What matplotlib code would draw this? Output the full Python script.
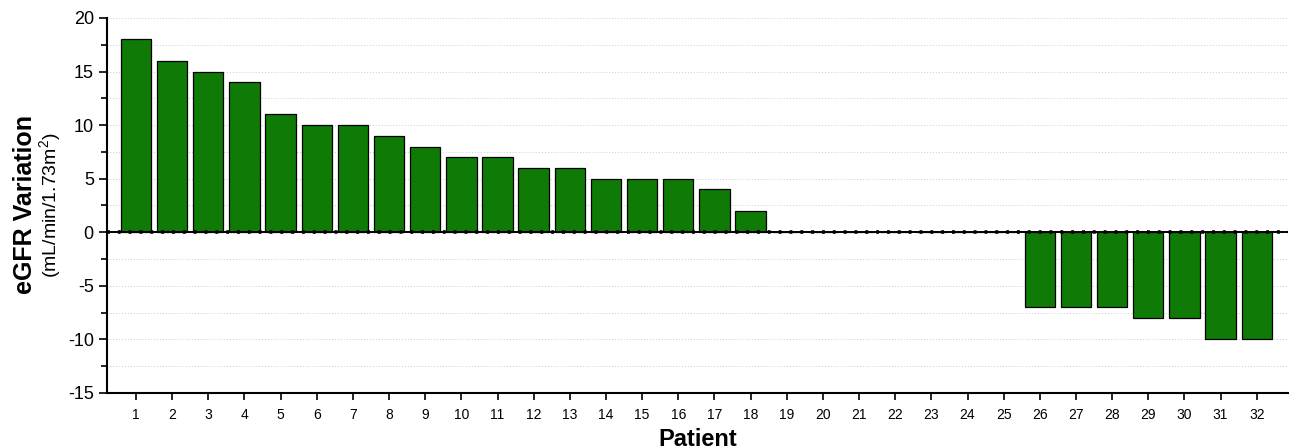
import numpy as np
import matplotlib.pyplot as plt
from matplotlib.ticker import MultipleLocator

plt.rcParams['font.family'] = ['Liberation Sans', 'DejaVu Sans']
plt.rcParams['axes.unicode_minus'] = False
plt.rcParams['mathtext.fontset'] = 'custom'
plt.rcParams['mathtext.rm'] = 'Liberation Sans'

patients = list(range(1, 33))
variation = [18, 16, 15, 14, 11, 10, 10, 9, 8, 7, 7, 6, 6, 5, 5, 5, 4, 2,
             0, 0, 0, 0, 0, 0, 0,
             -7, -7, -7, -8, -8, -10, -10]

fig = plt.figure(figsize=(12.93, 4.48), dpi=100)
ax = fig.add_axes([0.0828, 0.1228, 0.9132, 0.8372])

ax.bar(patients, variation, width=0.84, color='#107a07', edgecolor='black',
       linewidth=0.9, zorder=3)

# baseline: solid line with dotted overlay
ax.axhline(0, color='black', lw=1.4, zorder=4)
ax.axhline(0, color='black', lw=2.6, ls=(0, (0.8, 2.2)), zorder=4)

ax.set_xlim(0.2, 32.86)
ax.set_ylim(-15, 20)
ax.set_xticks(patients)
ax.set_xticklabels([str(p) for p in patients], fontsize=10)
ax.yaxis.set_major_locator(MultipleLocator(5))
ax.yaxis.set_minor_locator(MultipleLocator(2.5))
ax.tick_params(axis='y', which='major', labelsize=13, length=6, width=1.2, direction='out')
ax.tick_params(axis='y', which='minor', length=4, width=1.2, direction='out')
ax.tick_params(axis='x', length=5, width=1.2, direction='out', pad=6)

ax.grid(axis='y', which='both', color='#cccccc', ls=(0, (1, 2)), lw=0.7, zorder=0)
for s in ['top', 'right']:
    ax.spines[s].set_visible(False)
for s in ['left', 'bottom']:
    ax.spines[s].set_linewidth(1.5)

fig.text(0.0195, 0.543, 'eGFR Variation', rotation=90, fontsize=18,
         fontweight='bold', ha='center', va='center')
fig.text(0.039, 0.543, '(mL/min/1.73m$^\\mathrm{2}$)', rotation=90, fontsize=14,
         ha='center', va='center')
fig.text(0.54, 0.02, 'Patient', fontsize=17, fontweight='bold',
         ha='center', va='center')

fig.savefig('out.png', dpi=100)
